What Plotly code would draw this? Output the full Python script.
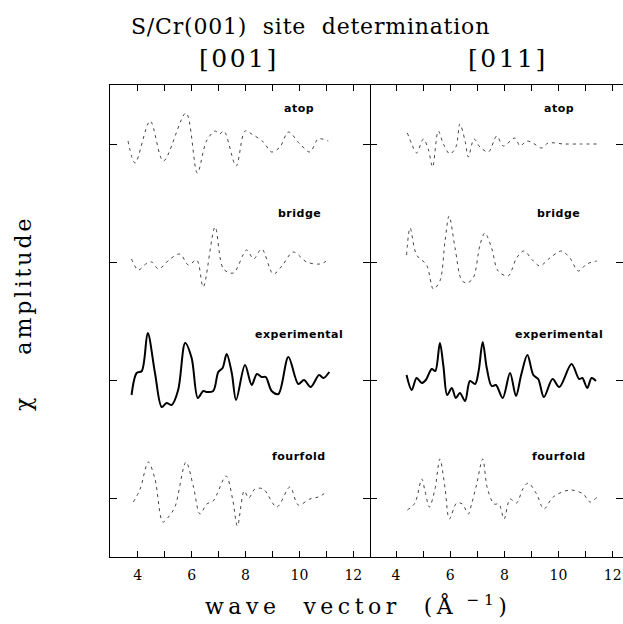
import plotly.graph_objects as go

# EXAFS chi(k) for S on Cr(001): calculated sites vs. experiment, two polarisations.
# k in 1/Angstrom, chi in arbitrary units; curves are stacked with a fixed offset.

# ---- [001] polarisation ----
k_001_atop = [3.64, 3.90, 4.46, 4.95, 5.79, 6.21, 6.55, 6.87, 7.03, 7.20, 7.65, 7.98,
              8.23, 8.66, 8.97, 9.28, 9.59, 10.02, 10.39, 10.70, 11.07]
chi_001_atop = [3, -19, 23, -17, 31, -29, 3, 13, 10, 13, -22, 13,
                10, 2, -8, -3, 12, 0, -8, 5, 3]

k_001_bridge = [3.77, 4.02, 4.30, 4.52, 4.77, 5.20, 5.57, 5.88, 6.19, 6.43, 6.87, 7.18,
                7.55, 8.04, 8.30, 8.60, 9.03, 9.35, 9.77, 10.27, 10.76, 11.07]
chi_001_bridge = [3, -8, -2, 0, -7, 3, 8, -3, 2, -25, 35, -7,
                  -11, 12, 3, 13, -12, -4, 10, 0, -2, 2]

k_001_exp = [3.77, 3.96, 4.15, 4.37, 4.64, 4.89, 5.07, 5.26, 5.50, 5.76, 6.00, 6.23,
             6.43, 6.55, 6.80, 6.99, 7.15, 7.30, 7.49, 7.65, 7.98, 8.23, 8.42, 8.60,
             8.75, 8.97, 9.22, 9.59, 9.96, 10.17, 10.42, 10.73, 10.89, 11.11]
chi_001_exp = [-15, 7, 9, 47, 7, -27, -23, -25, -10, 37, 22, -18,
               -11, -12, -11, 8, 12, 26, 7, -20, 15, -5, 6, 3,
               3, -11, -14, 23, -4, 0, -7, 5, 2, 8]

k_001_four = [3.84, 4.09, 4.39, 4.64, 4.93, 5.14, 5.38, 5.79, 6.06, 6.31, 6.56, 6.80,
              7.28, 7.52, 7.70, 7.95, 8.12, 8.35, 8.66, 9.16, 9.65, 9.96, 10.39, 10.70, 11.01]
chi_001_four = [-4, 9, 36, 19, -24, -19, -9, 36, 12, -16, -6, -3,
                22, -1, -28, 7, 0, 9, 9, -9, 11, -7, -1, 1, 6]

# ---- [011] polarisation ----
k_011_atop = [4.42, 4.58, 4.76, 5.01, 5.19, 5.35, 5.56, 5.75, 5.99, 6.21, 6.36, 6.55,
              6.67, 6.88, 7.10, 7.41, 7.72, 7.96, 8.39, 8.58, 8.82, 9.05, 9.38, 9.62,
              10.20, 10.80, 11.47]
chi_011_atop = [11, 0, -9, 5, -5, -23, 13, 0, -10, -3, 20, 3,
                -13, 5, -3, -8, 8, -2, 6, -2, 3, 1, -4, 1,
                0, 0, 0]

k_011_bridge = [4.39, 4.52, 4.76, 5.13, 5.38, 5.62, 5.81, 5.96, 6.18, 6.42, 6.61, 6.85,
                7.10, 7.28, 7.53, 7.77, 8.14, 8.45, 8.72, 9.07, 9.31, 9.68, 10.11, 10.42,
                10.73, 11.04, 11.41]
chi_011_bridge = [7, 34, 7, -3, -27, -19, 21, 46, 14, -18, -21, -16,
                  17, 29, 14, -9, -14, 4, 11, 1, -4, 4, 11, 4,
                  -9, -2, 1]

k_011_exp = [4.39, 4.58, 4.76, 4.95, 5.10, 5.32, 5.45, 5.62, 5.75, 5.89, 6.06, 6.21,
             6.36, 6.55, 6.73, 6.92, 7.05, 7.20, 7.35, 7.53, 7.69, 7.94, 8.21, 8.43,
             8.62, 8.85, 9.07, 9.25, 9.46, 9.78, 10.03, 10.48, 10.76, 10.88, 11.06,
             11.22, 11.38]
chi_011_exp = [5, -10, 2, -3, 0, 11, 9, 37, 14, -15, -8, -18,
               -13, -21, -1, -4, 9, 38, 12, -6, -5, -18, 7, -16,
               5, 25, 5, 1, -17, 1, -7, 16, 1, 2, -8,
               2, -1]

k_011_four = [4.42, 4.70, 4.95, 5.07, 5.23, 5.44, 5.62, 5.81, 5.97, 6.24, 6.45, 6.67,
              6.79, 6.98, 7.20, 7.37, 7.62, 7.80, 7.99, 8.21, 8.45, 8.68, 8.88, 9.19,
              9.46, 9.80, 10.42, 10.91, 11.16, 11.43]
chi_011_four = [-12, -5, 19, 7, -9, 9, 39, 10, -21, -5, -6, -16,
                -6, 14, 39, 10, -6, -6, -21, -1, -5, 9, 15, 4,
                -11, 1, 8, 4, -4, 1]

site_labels = ["atop", "bridge", "experimental", "fourfold"]
label_heights = [36, 49, 46, 42]          # label height above each baseline
k_ticks = [4, 5, 6, 7, 8, 9, 10, 11, 12]
k_tick_text = ["4", "", "6", "", "8", "", "10", "", "12"]

OFFSET = 118                               # vertical spacing between stacked curves
baselines = [3 * OFFSET, 2 * OFFSET, 1 * OFFSET, 0]

panels = [
    ("x", "y", [(k_001_atop, chi_001_atop), (k_001_bridge, chi_001_bridge),
                (k_001_exp, chi_001_exp), (k_001_four, chi_001_four)]),
    ("x2", "y2", [(k_011_atop, chi_011_atop), (k_011_bridge, chi_011_bridge),
                  (k_011_exp, chi_011_exp), (k_011_four, chi_011_four)]),
]

fig = go.Figure()
for xa, ya, curves in panels:
    for i, (k, chi) in enumerate(curves):
        base = baselines[i]
        is_exp = site_labels[i] == "experimental"
        fig.add_trace(go.Scatter(
            x=k, y=[base + c for c in chi], xaxis=xa, yaxis=ya, mode="lines",
            line=dict(color="#000000" if is_exp else "#444444",
                      width=2.0 if is_exp else 1.0,
                      dash="solid" if is_exp else "3px,4px",
                      shape="spline", smoothing=0.9),
            showlegend=False, hoverinfo="skip"))
        fig.add_annotation(x=10.0, y=base + label_heights[i], xref=xa, yref=ya,
                           text='<b><span style="letter-spacing:0.5px">%s</span></b>'
                                % site_labels[i],
                           showarrow=False,
                           font=dict(family="DejaVu Sans", size=11, color="#000"))

# empty trace so the tick-only right axis of the second panel is drawn
fig.add_trace(go.Scatter(x=[], y=[], xaxis="x2", yaxis="y3", showlegend=False))

L_MARGIN, T_MARGIN, B_MARGIN = 110, 85, 67
W, H = 623, 624
plot_w = W - L_MARGIN
plot_h = H - T_MARGIN - B_MARGIN
split = 260 / plot_w

axis_common = dict(showgrid=False, zeroline=False, ticks="inside",
                   tickcolor="#000", tickwidth=1.2, linecolor="#000", linewidth=1.2)
xtick = dict(tickvals=k_ticks, ticktext=k_tick_text, ticklen=6, ticklabelstandoff=5,
             tickfont=dict(family="DejaVu Serif", size=14, color="#000"))
ytick = dict(tickvals=baselines, showticklabels=False, ticklen=7, range=[-59, 413])

fig.update_layout(
    width=W, height=H, plot_bgcolor="#fff", paper_bgcolor="#fff",
    margin=dict(l=L_MARGIN, r=0, t=T_MARGIN, b=B_MARGIN),
    xaxis=dict(domain=[0, split], range=[2.97, 12.62], anchor="y", mirror="ticks",
               showline=True, **axis_common, **xtick),
    yaxis=dict(domain=[0, 1], anchor="x", mirror="ticks", showline=True,
               **axis_common, **ytick),
    xaxis2=dict(domain=[split, 1], range=[3.04, 12.38], anchor="y2", mirror="ticks",
                showline=True, **axis_common, **xtick),
    yaxis2=dict(domain=[0, 1], anchor="x2", showline=False, **axis_common, **ytick),
    yaxis3=dict(overlaying="y2", anchor="x2", side="right", showline=False,
                **axis_common, **ytick),
)


def px_to_paper(px, py):
    return (px - L_MARGIN) / plot_w, (H - B_MARGIN - py) / plot_h


def spaced(text, px):
    return '<span style="letter-spacing:%gpx">%s</span>' % (px, text)


serif = "DejaVu Serif"
for text, (px, py), size, angle in [
    (spaced("S/Cr(001)  site  determination", 0.8), (310, 26), 22, 0),
    (spaced("[001]", 2.5), (239, 58), 25, 0),
    (spaced("[011]", 2.5), (508, 58), 25, 0),
    (spaced("wave  vector  (Å<sup> −1</sup>)", 4.5), (358, 605), 22, 0),
    (spaced("χ    amplitude", 3), (23, 313), 22, -90),
]:
    ax, ay = px_to_paper(px, py)
    fig.add_annotation(x=ax, y=ay, xref="paper", yref="paper", text=text,
                       showarrow=False, textangle=angle,
                       xanchor="center", yanchor="middle",
                       font=dict(family=serif, size=size, color="#000"))

fig.write_html("out.html")
